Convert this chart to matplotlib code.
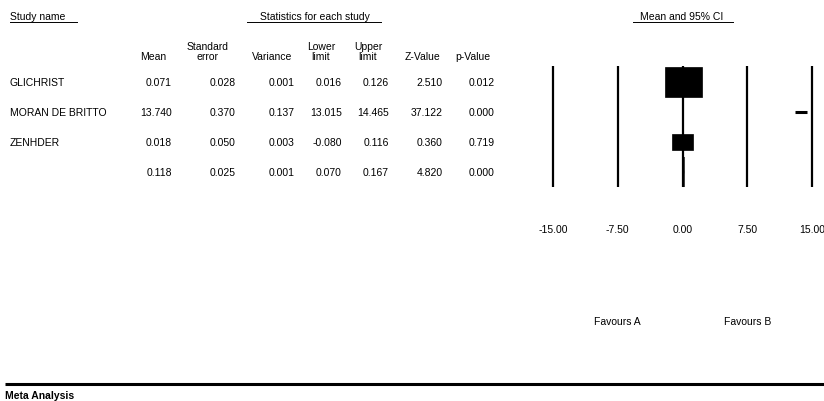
import numpy as np
import matplotlib.pyplot as plt
from matplotlib.patches import Rectangle, Polygon

plt.rcParams['font.family'] = ['Liberation Sans', 'DejaVu Sans']

studies = ["GLICHRIST", "MORAN DE BRITTO", "ZENHDER", ""]
mean = [0.071, 13.740, 0.018, 0.118]
std_err = [0.028, 0.370, 0.050, 0.025]
variance = [0.001, 0.137, 0.003, 0.001]
lower = [0.016, 13.015, -0.080, 0.070]
upper = [0.126, 14.465, 0.116, 0.167]
z_value = [2.510, 37.122, 0.360, 4.820]
p_value = [0.012, 0.000, 0.719, 0.000]
ticks = [-15.0, -7.5, 0.0, 7.5, 15.0]

W, H = 824, 402
fig = plt.figure(figsize=(W / 100, H / 100), dpi=100)

# text table in pixel coordinates
ax0 = fig.add_axes([0, 0, 1, 1])
ax0.set_xlim(0, W)
ax0.set_ylim(H, 0)
ax0.axis('off')

fs = 7.5
row_y = [83, 113, 143, 173]

# group headers with underline
ax0.text(10, 17, "Study name", fontsize=fs, va='center', ha='left')
ax0.plot([10, 77], [23, 23], color='black', lw=0.7)
ax0.text(260, 17, "Statistics for each study", fontsize=fs, va='center', ha='left')
ax0.plot([247, 381], [23, 23], color='black', lw=0.7)
ax0.text(682, 17, "Mean and 95% CI", fontsize=fs, va='center', ha='center')
ax0.plot([633, 733], [23, 23], color='black', lw=0.7)

# column headers: (centre, right edge of values, text, values)
cols = [
    (153, 172, "Mean", mean),
    (208, 236, "Standard\nerror", std_err),
    (272, 295, "Variance", variance),
    (321, 342, "Lower\nlimit", lower),
    (368, 389, "Upper\nlimit", upper),
    (423, 443, "Z-Value", z_value),
    (473, 495, "p-Value", p_value),
]
for cx, rx, head, vals in cols:
    ax0.text(cx, 62, head, fontsize=fs, ha='center', va='bottom', linespacing=1.05)
    for y, v in zip(row_y, vals):
        ax0.text(rx, y, f"{v:.3f}", fontsize=fs, ha='right', va='center')

for y, s in zip(row_y, studies):
    ax0.text(10, y, s, fontsize=fs, ha='left', va='center')

# footer
ax0.plot([5, W], [384.5, 384.5], color='black', lw=2.2, solid_capstyle='butt')
ax0.text(5, 396, "Meta Analysis", fontsize=fs, fontweight='bold', ha='left', va='center')

# forest plot: x in data units, y in pixels
x0, x1 = 553, 812
ax = fig.add_axes([x0 / W, 0, (x1 - x0) / W, 1])
ax.set_xlim(-15, 15)
ax.set_ylim(H, 0)
ax.axis('off')
px_per_unit = (x1 - x0) / 30.0

ax.vlines(ticks, 67, 188, color='black', lw=1.6, clip_on=False)
for t in ticks:
    ax.text(t, 230, f"{t:.2f}", fontsize=fs, ha='center', va='center', clip_on=False)
ax.text(-7.5, 322, "Favours A", fontsize=fs, ha='center', va='center')
ax.text(7.5, 322, "Favours B", fontsize=fs, ha='center', va='center')

# study boxes, area proportional to weight (1/se^2)
weights = 1.0 / np.array(std_err[:3]) ** 2
area = 0.87 * weights
for i in range(3):
    y = row_y[i]
    ax.plot([lower[i], upper[i]], [y, y], color='black', lw=2.2, solid_capstyle='butt')
    h = np.sqrt(area[i] / 1.23)
    w = 1.23 * h / px_per_unit
    ax.add_patch(Rectangle((mean[i] - w / 2, y - h / 2), w, h,
                           facecolor='black', edgecolor='black', lw=0.5))

# summary diamond
y = row_y[3]
ax.add_patch(Polygon([(lower[3], y), (mean[3], y - 15), (upper[3], y), (mean[3], y + 15)],
                     closed=True, facecolor='black', edgecolor='black', lw=1.2))

fig.savefig("out.png", dpi=100)
